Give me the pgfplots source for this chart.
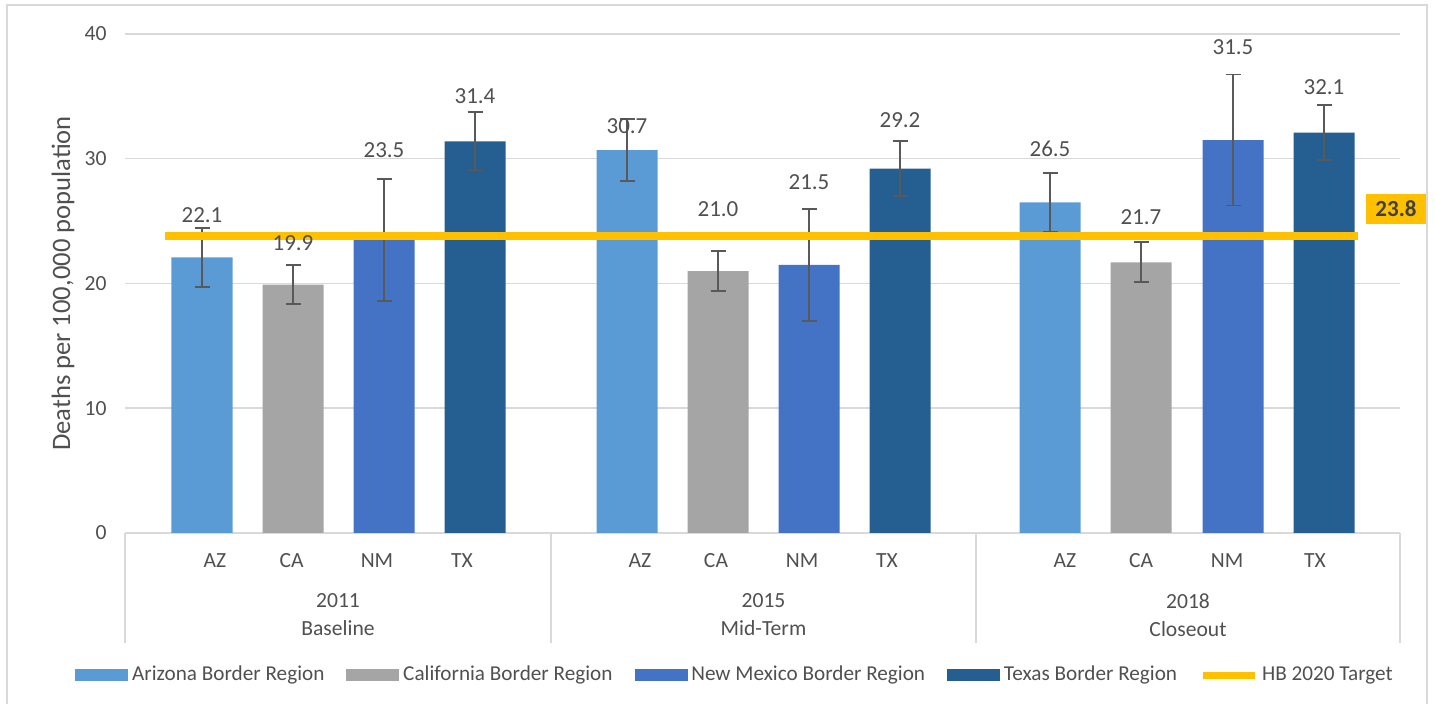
\documentclass[border=0pt]{standalone}
\usepackage{fontspec}
\setmainfont{Carlito}
\usepackage{pgfplots}
\pgfplotsset{compat=1.18}
\definecolor{azc}{HTML}{5B9BD5}
\definecolor{cac}{HTML}{A5A5A5}
\definecolor{nmc}{HTML}{4472C4}
\definecolor{txc}{HTML}{255E91}
\definecolor{tgc}{HTML}{FFC000}
\definecolor{txtc}{HTML}{505050}
\definecolor{errc}{HTML}{595959}
\definecolor{gridc}{HTML}{D9D9D9}
\begin{document}
\begin{tikzpicture}[x=1pt,y=1pt]
\draw[gridc, line width=0.75pt] (3.5,-10) rectangle (713.5,349.5);
\begin{axis}[
  at={(62.5pt,85.5pt)}, anchor=south west,
  scale only axis, width=637.5pt, height=249.5pt,
  xmin=125, xmax=1400, ymin=0, ymax=40,
  clip=false,
  axis x line=bottom, axis y line=left,
  x axis line style={-, draw=gridc, line width=0.75pt},
  y axis line style={draw=none},
  ytick={0,10,20,30,40},
  ymajorgrids, major grid style={gridc, line width=0.75pt},
  major tick length=0pt,
  xtick={215,291.7,377,462,640,716,802,887,1065,1141,1227,1315},
  xticklabels={AZ,CA,NM,TX,AZ,CA,NM,TX,AZ,CA,NM,TX},
  xticklabel style={anchor=center, yshift=-14pt, font=\fontsize{10.8}{13}\selectfont, text=txtc},
  yticklabel style={anchor=east, inner sep=0pt, xshift=-9pt, font=\fontsize{10.8}{13}\selectfont, text=txtc},
  /pgf/number format/assume math mode=true,
  ylabel={Deaths per 100,000 population},
  ylabel style={at={(axis description cs:-0.0486,0.5)}, anchor=center, font=\fontsize{13.3}{16}\selectfont, text=txtc},
  legend style={at={(axis description cs:-0.0392,-0.2846)}, anchor=west, draw=none, fill=none, inner sep=0pt,
    font=\fontsize{10.6}{12}\selectfont, text=txtc,
    /tikz/every even column/.append style={column sep=9pt}},
  legend columns=5,
  legend cell align=left,
  ybar, bar shift=0pt, bar width=61,
]
\addlegendimage{legend image code/.code={\fill[azc] (0pt,-2.75pt) rectangle (26pt,2.75pt);}}
\addlegendentry{Arizona Border Region}
\addlegendimage{legend image code/.code={\fill[cac] (0pt,-2.75pt) rectangle (26pt,2.75pt);}}
\addlegendentry{California Border Region}
\addlegendimage{legend image code/.code={\fill[nmc] (0pt,-2.75pt) rectangle (26pt,2.75pt);}}
\addlegendentry{New Mexico Border Region}
\addlegendimage{legend image code/.code={\fill[txc] (0pt,-2.75pt) rectangle (26pt,2.75pt);}}
\addlegendentry{Texas Border Region}
\addlegendimage{legend image code/.code={\draw[tgc, line width=3.5pt] (0pt,0pt) -- (26pt,0pt);}}
\addlegendentry{HB 2020 Target}

\pgfplotsset{myerr/.style={error bars/.cd, y dir=both, y explicit,
  error bar style={errc, line width=0.9pt},
  error mark options={errc, line width=0.9pt, mark size=3.75pt, rotate=90}}}

\addplot[forget plot, fill=azc, draw=none, myerr]
  coordinates {(202,22.1) +- (0,2.35) (627,30.7) +- (0,2.5) (1050,26.5) +- (0,2.35)};
\addplot[forget plot, fill=cac, draw=none, myerr]
  coordinates {(293,19.9) +- (0,1.55) (718,21.0) +- (0,1.6) (1141,21.7) +- (0,1.6)};
\addplot[forget plot, fill=nmc, draw=none, myerr]
  coordinates {(384,23.5) +- (0,4.9) (809,21.5) +- (0,4.5) (1233,31.5) +- (0,5.25)};
\addplot[forget plot, fill=txc, draw=none, myerr]
  coordinates {(475,31.4) +- (0,2.35) (900,29.2) +- (0,2.2) (1324,32.1) +- (0,2.2)};

\addplot[forget plot, sharp plot, tgc, line width=4.3pt] coordinates {(165,23.8) (1358,23.8)};

\addplot[forget plot, sharp plot, draw=none, nodes near coords, point meta=explicit symbolic,
  nodes near coords style={anchor=center, font=\fontsize{11.5}{13}\selectfont, text=txtc}]
  coordinates {(202,25.49)[22.1] (293,23.27)[19.9] (384,30.65)[23.5] (475,35.05)[31.4]
               (627,32.63)[30.7] (718,25.97)[21.0] (809,28.16)[21.5] (900,33.11)[29.2]
               (1050,30.78)[26.5] (1141,25.35)[21.7] (1233,38.98)[31.5] (1324,35.78)[32.1]};

\node[fill=tgc, text=black!75, font=\bfseries\fontsize{11.5}{13}\selectfont, minimum width=30pt, minimum height=15pt, inner sep=0pt]
  at (axis cs:1396,25.97) {23.8};

\foreach \xx in {125,551,976,1400} {
  \edef\tmp{\noexpand\draw[gridc, line width=0.75pt] (axis cs:\xx,0) -- (axis cs:\xx,-8.82);}\tmp
}
\node[align=center, font=\fontsize{10.8}{14}\selectfont, text=txtc] at (axis cs:338,-6.573) {2011\\Baseline};
\node[align=center, font=\fontsize{10.8}{14}\selectfont, text=txtc] at (axis cs:763.5,-6.573) {2015\\Mid-Term};
\node[align=center, font=\fontsize{10.8}{14}\selectfont, text=txtc] at (axis cs:1188,-6.573) {2018\\Closeout};
\end{axis}
\pgfresetboundingbox
\useasboundingbox (0,0) rectangle (717.5,352);
\end{tikzpicture}
\end{document}
